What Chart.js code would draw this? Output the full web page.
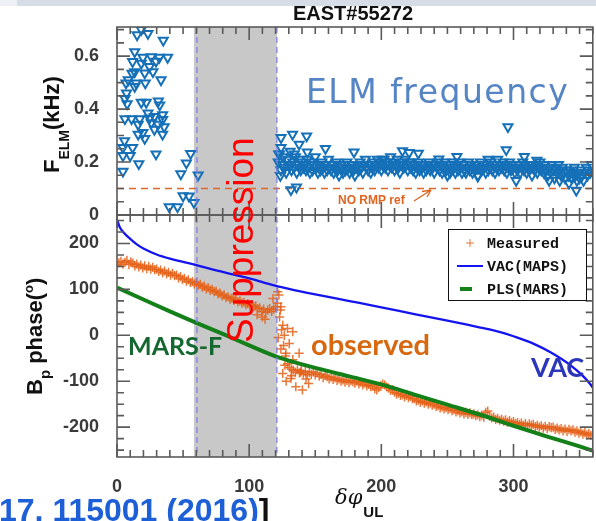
<!DOCTYPE html>
<html>
<head>
<meta charset="utf-8">
<script src="https://cdn.jsdelivr.net/npm/chart.js@4.4.1/dist/chart.umd.min.js"></script>
<style>
html, body { margin: 0; padding: 0; background: #fff; overflow: hidden; width: 596px; height: 521px; }
canvas { display: block; }
</style>
</head>
<body>
<canvas id="chart" width="600" height="521"></canvas>
<script>
// ===== data =====
const xTicks = [0, 100, 200, 300];
const fTicks = [0, 0.2, 0.4, 0.6];
const phaseTicks = [-200, -100, 0, 100, 200];

// ELM frequency (kHz), scattered points
const elmX = [18.4,15.2,23.4,35,13.4,11.8,19.6,25.9,32,38.3,29.5,18.4,24.6,13.4,11.4,21,27.2,33.3,8.5,6.8,
  14.4,21.4,13.4,7.2,6,7.7,18.4,22.1,31.3,32.3,6,11,17.2,23.4,24.6,28.3,34.5,34.5,16,26,
  31,28.3,35.7,16,19.6,21,34.5,5.7,4.5,11.8,4.5,10,29.5,16.5,4.5,55.7,52.5,48.3,61.4,50,
  54.5,58.2,39.5,45.8,
  124.1,132.8,143.5,124.1,137.8,122.4,134,144,157.7,179.3,123.6,131.6,135.8,216,221,228,200.7,295.8,294.5,257.2,
  243.5,280.8,308.2,317.7,302,326.9,335,342,347.5,252,273];
const elmF = [0.70,0.68,0.685,0.66,0.616,0.579,0.595,0.597,0.595,0.595,0.58,0.573,0.56,0.541,0.535,0.536,0.541,0.51,0.51,0.498,
  0.498,0.498,0.485,0.46,0.44,0.42,0.425,0.425,0.43,0.415,0.363,0.363,0.363,0.385,0.366,0.372,0.378,0.36,0.342,0.348,
  0.342,0.323,0.333,0.305,0.311,0.289,0.305,0.28,0.255,0.255,0.224,0.224,0.23,0.193,0.165,0.232,0.196,0.155,0.151,0.072,
  0.071,0.047,0.031,0.031,
  0.292,0.305,0.298,0.255,0.267,0.23,0.23,0.238,0.251,0.238,0.149,0.095,0.105,0.242,0.236,0.233,0.21,0.333,0.246,0.221,
  0.211,0.21,0.221,0.206,0.13,0.13,0.13,0.12,0.093,0.16,0.146];

// ELM frequency, dense band after suppression (one value per unit of dphi, from 122)
const elmBandStart = 122;
const elmBand = [
  .20,.23,.17,.19,.22,.18,.16,.21,.19,.24,.17,.20,.18,.22,.16,.19,.21,.17,.20,.18,
  .19,.17,.21,.18,.16,.20,.17,.19,.22,.18,.16,.19,.17,.20,.18,.16,.19,.17,.21,.18,
  .17,.19,.16,.18,.20,.17,.15,.19,.18,.16,.19,.17,.20,.18,.16,.18,.19,.17,.15,.18,
  .19,.17,.20,.18,.16,.19,.21,.18,.17,.19,.16,.18,.20,.17,.19,.21,.18,.20,.17,.19,
  .21,.18,.20,.17,.19,.22,.18,.20,.17,.19,.21,.18,.16,.19,.20,.18,.21,.19,.17,.20,
  .18,.20,.17,.19,.16,.18,.20,.17,.19,.18,.16,.19,.17,.18,.20,.17,.19,.18,.16,.19,
  .18,.20,.17,.19,.16,.18,.20,.17,.15,.18,.19,.17,.20,.18,.16,.19,.17,.20,.18,.16,
  .19,.17,.16,.18,.20,.17,.19,.16,.18,.17,.19,.15,.18,.20,.17,.19,.18,.16,.19,.17,
  .18,.20,.17,.19,.16,.18,.21,.17,.19,.18,.20,.17,.19,.16,.18,.20,.17,.19,.18,.16,
  .18,.17,.19,.16,.18,.20,.17,.19,.16,.18,.17,.19,.15,.18,.17,.19,.16,.18,.20,.17,
  .18,.16,.19,.17,.15,.18,.16,.19,.17,.14,.18,.16,.19,.17,.15,.18,.16,.14,.17,.16,
  .15,.17,.14,.16,.18,.15,.13,.16,.14,.17,.15,.13,.16,.18,.15,.17,.16,.19];
const noRmpRef = 0.1;

// measured Bp phase (deg), one value every 1.5 of dphi from 0
const measStep = 1.5;
const measured = [
  152,158,161,155,159,163,154,160,157,151,
  155,149,153,147,151,145,150,144,148,143,
  144,139,142,136,140,134,137,131,135,130,
  131,125,128,122,124,118,121,115,117,112,
  115,109,111,105,107,101,104,98,100,95,
  96,90,92,86,88,82,84,79,81,76,
  78,73,75,70,72,67,69,64,66,62,
  64,58,60,52,57,50,55,58,52,57,
  62,70,40,12,-22,-45,-62,-70,-74,-76,
  -80,-75,-82,-77,-84,-79,-86,-81,-85,-80,
  -86,-82,-89,-85,-92,-87,-90,-95,-91,-96,
  -93,-98,-95,-100,-97,-102,-98,-103,-99,-101,
  -104,-100,-106,-102,-108,-104,-110,-107,-112,-109,
  -116,-119,-114,-110,-106,-108,-112,-115,-120,-118,
  -124,-128,-126,-131,-129,-134,-131,-136,-133,-138,
  -138,-143,-141,-146,-143,-148,-145,-150,-147,-152,
  -150,-155,-153,-158,-156,-160,-157,-162,-159,-164,
  -162,-167,-164,-169,-166,-171,-168,-172,-169,-173,
  -171,-175,-173,-177,-174,-178,-168,-165,-176,-180,
  -178,-183,-181,-185,-183,-187,-184,-189,-186,-190,
  -188,-192,-190,-194,-191,-196,-192,-197,-193,-196,
  -194,-199,-196,-200,-197,-202,-198,-203,-199,-201,
  -200,-205,-202,-206,-203,-208,-204,-209,-205,-208,
  -206,-211,-208,-213,-210,-215,-212,-217,-214,-218];
// measured points scattered around the end of suppression
const measExtraX = [121.6,122.5,124,123.6,125.4,129,133,126.6,130.3,127.8,137.8,133,125.4,131.6,135.3,140.3,139,143,128,145,122,124,118,112,110,106,127,132];
const measExtraY = [95,88,62,55,22,15,8,0,-18,-39,-39,-53,-83,-94,-112,-119,-80,-95,-100,-105,-5,-30,80,35,40,45,-65,-88];

// VAC (MAPS) and PLS (MARS) curves
const vacX = [0,2,5,10,15,20,30,40,50,60,70,80,90,100,110,121,130,150,175,200,225,250,275,290,300,315,328,343,353,358,362];
const vacY = [252,236,224,210,198,189,176,167,160,153,145,138,131,124,116,107,101,89,75,61,46,32,17,7,-2,-18,-37,-65,-90,-106,-122];
const plsX = [0,20,40,60,80,100,121,130,150,175,200,225,250,275,300,325,350,362];
const plsY = [104,78,52,27,3,-22,-47,-55,-71,-89,-107,-129,-151,-173,-197,-220,-242,-253];

// suppression window and its dashed edges
const suppressBand = [58.2, 121];
const suppressEdges = [60.5, 121];

const pts = (xs, ys) => xs.map((x, i) => ({ x: x, y: ys[i] }));

const TICK_FONT = { family: 'Liberation Sans', size: 18, weight: 'bold' };
const ORANGE = 'rgba(228,96,24,0.85)';
const ELM_BLUE = '#1570b8';

function txt(ctx, s, x, y, font, color, align) {
    ctx.font = font;
    ctx.fillStyle = color;
    ctx.textAlign = align || 'left';
    ctx.textBaseline = 'alphabetic';
    ctx.fillText(s, x, y);
    return ctx.measureText(s).width;
}

const decor = {
    id: 'decor',
    beforeDatasetsDraw(chart) {
        const { ctx, chartArea: a, scales: { x } } = chart;
        ctx.save();
        const x0 = x.getPixelForValue(suppressBand[0]), x1 = x.getPixelForValue(suppressBand[1]);
        ctx.fillStyle = '#c8c8c8';
        ctx.fillRect(x0, a.top, x1 - x0, a.bottom - a.top);
        ctx.restore();
    },
    afterDatasetsDraw(chart) {
        const { ctx, chartArea: a, scales: { x, yf, yp } } = chart;
        ctx.save();
        // dashed edges of suppression window
        ctx.strokeStyle = '#7a7aee';
        ctx.lineWidth = 1.2;
        ctx.setLineDash([6, 4]);
        suppressEdges.forEach(v => {
            const px = x.getPixelForValue(v);
            ctx.beginPath(); ctx.moveTo(px, a.top); ctx.lineTo(px, a.bottom); ctx.stroke();
        });
        ctx.setLineDash([]);

        // frames + inward ticks for each panel
        ctx.strokeStyle = '#5a5a5a';
        ctx.lineWidth = 1.6;
        const panels = [
            { s: yf, step: 0.05, major: 0.2 },
            { s: yp, step: 25, major: 100 }
        ];
        panels.forEach(p => {
            const top = p.s.top, bot = p.s.bottom;
            ctx.strokeRect(a.left, top, a.right - a.left, bot - top);
            ctx.beginPath();
            for (let v = 0; v <= 360; v += 10) {
                const px = x.getPixelForValue(v);
                const len = v % 100 === 0 ? 13 : 7;
                ctx.moveTo(px, bot); ctx.lineTo(px, bot - len);
                ctx.moveTo(px, top); ctx.lineTo(px, top + len);
            }
            const n0 = Math.ceil(p.s.min / p.step), n1 = Math.floor(p.s.max / p.step);
            const per = Math.round(p.major / p.step);
            for (let n = n0; n <= n1; n++) {
                const py = p.s.getPixelForValue(n * p.step);
                const len = n % per === 0 ? 13 : 7;
                ctx.moveTo(a.left, py); ctx.lineTo(a.left + len, py);
                ctx.moveTo(a.right, py); ctx.lineTo(a.right - len, py);
            }
            ctx.stroke();
        });
        ctx.restore();
    },
    afterDraw(chart) {
        const { ctx } = chart;
        ctx.save();

        // slide header strip
        ctx.fillStyle = '#d6dde7';
        ctx.fillRect(0, 0, 596, 6);
        ctx.fillStyle = '#eef1f5';
        ctx.fillRect(0, 0, 17, 6);

        // title
        txt(ctx, 'EAST#55272', 353, 20, 'bold 20px "Liberation Sans"', '#111', 'center');

        // upper y title: F_ELM(kHz)
        ctx.save();
        ctx.translate(59, 173);
        ctx.rotate(-Math.PI / 2);
        let w = txt(ctx, 'F', 0, 0, 'bold 22px "Liberation Sans"', '#111');
        let w2 = txt(ctx, 'ELM', w, 10, 'bold 14px "Liberation Sans"', '#111');
        txt(ctx, '(kHz)', w + w2, 0, 'bold 22px "Liberation Sans"', '#111');
        ctx.restore();

        // lower y title: B_p phase(o)
        ctx.save();
        ctx.translate(42, 395);
        ctx.rotate(-Math.PI / 2);
        w = txt(ctx, 'B', 0, 0, 'bold 22px "Liberation Sans"', '#111');
        w += txt(ctx, 'p', w, 8, 'bold 15px "Liberation Sans"', '#111');
        w += txt(ctx, ' phase(', w, 0, 'bold 22px "Liberation Sans"', '#111');
        w += txt(ctx, 'o', w, -9, 'bold 13px "Liberation Sans"', '#111');
        txt(ctx, ')', w, 0, 'bold 22px "Liberation Sans"', '#111');
        ctx.restore();

        // x title: delta phi_UL
        w = txt(ctx, '\u03B4\u03C6', 335, 504, 'italic 21px "DejaVu Serif"', '#111');
        txt(ctx, 'UL', 335 + w + 1, 517, 'bold 15px "Liberation Sans"', '#111');

        // annotations
        ctx.letterSpacing = '1.5px';
        txt(ctx, 'ELM frequency', 306, 103, 'normal 33px "DejaVu Sans"', '#5585c5');
        ctx.letterSpacing = '0px';
        txt(ctx, 'NO RMP ref', 338, 204, 'bold 12px "Liberation Sans"', '#e0641f');
        ctx.strokeStyle = '#e0641f';
        ctx.lineWidth = 1.3;
        ctx.beginPath();
        ctx.moveTo(414, 201); ctx.lineTo(431, 190);
        ctx.moveTo(431, 190); ctx.lineTo(422, 191.5);
        ctx.moveTo(431, 190); ctx.lineTo(427, 197);
        ctx.stroke();

        txt(ctx, 'MARS-F', 128, 355, 'bold 25px "Lato"', '#13672f');
        txt(ctx, 'observed', 311, 355, 'bold 29px "Lato"', '#d7680f');
        txt(ctx, 'VAC', 531, 377, 'bold 27px "Lato"', '#2b37b8');

        ctx.save();
        ctx.translate(253, 343);
        ctx.rotate(-Math.PI / 2);
        txt(ctx, 'Suppression', 0, 0, '37px "Liberation Sans"', '#ff0000');
        ctx.restore();

        // legend
        ctx.fillStyle = '#fff';
        ctx.fillRect(448.5, 229.5, 138, 71);
        ctx.strokeStyle = '#111';
        ctx.lineWidth = 1;
        ctx.strokeRect(448.5, 229.5, 138, 71);
        ctx.strokeStyle = ORANGE;
        ctx.beginPath();
        ctx.moveTo(466, 243); ctx.lineTo(474, 243);
        ctx.moveTo(470, 239); ctx.lineTo(470, 247);
        ctx.stroke();
        ctx.strokeStyle = '#1414f0'; ctx.lineWidth = 2;
        ctx.beginPath(); ctx.moveTo(457, 266); ctx.lineTo(483, 266); ctx.stroke();
        ctx.strokeStyle = '#13801a'; ctx.lineWidth = 4;
        ctx.beginPath(); ctx.moveTo(460, 289); ctx.lineTo(472, 289); ctx.stroke();
        ['Measured', 'VAC(MAPS)', 'PLS(MARS)'].forEach((s, i) =>
            txt(ctx, s, 487, 248 + i * 23, 'bold 15px "Liberation Mono"', '#111'));

        // reference line under the figure
        w = txt(ctx, '17, 115001 (2016)', -1, 521, 'bold 32px "Liberation Sans"', '#1d5fd6');
        txt(ctx, ']', w - 1, 521, 'bold 32px "Liberation Sans"', '#111');

        ctx.restore();
    }
};

const elmStyle = { pointStyle: 'triangle', rotation: 180, pointRadius: 5.2, borderWidth: 2,
    borderColor: ELM_BLUE, backgroundColor: 'rgba(0,0,0,0)', yAxisID: 'yf', order: 4 };
const measStyle = { pointStyle: 'cross', pointRadius: 4.6, borderWidth: 1.5, borderColor: ORANGE, yAxisID: 'yp', order: 3 };

new Chart(document.getElementById('chart'), {
    type: 'scatter',
    data: {
        datasets: [
            { label: 'VAC(MAPS)', data: pts(vacX, vacY), yAxisID: 'yp', showLine: true,
              borderColor: '#1414f0', borderWidth: 2.3, pointRadius: 0, cubicInterpolationMode: 'monotone', order: 1 },
            { label: 'PLS(MARS)', data: pts(plsX, plsY), yAxisID: 'yp', showLine: true,
              borderColor: '#13801a', borderWidth: 4, pointRadius: 0, cubicInterpolationMode: 'monotone', order: 2 },
            { label: 'Measured', data: measured.map((v, i) => ({ x: i * measStep, y: v })), ...measStyle },
            { label: 'Measured extra', data: pts(measExtraX, measExtraY), ...measStyle },
            { label: 'NO RMP ref', data: [{ x: 0, y: noRmpRef }, { x: 360, y: noRmpRef }], yAxisID: 'yf', showLine: true,
              borderColor: '#e0672a', borderWidth: 1.4, borderDash: [7, 5], pointRadius: 0, order: 5 },
            { label: 'ELM', data: pts(elmX, elmF), ...elmStyle },
            { label: 'ELM band', data: elmBand.map((v, i) => ({ x: elmBandStart + i, y: v })), ...elmStyle }
        ]
    },
    options: {
        responsive: false,
        animation: false,
        devicePixelRatio: 1,
        layout: { padding: { top: 27, right: 1, left: 0, bottom: 0 } },
        plugins: { legend: { display: false }, tooltip: { enabled: false } },
        scales: {
            x: { type: 'linear', position: 'bottom', min: 0, max: 360,
                 afterBuildTicks: s => { s.ticks = xTicks.map(v => ({ value: v })); },
                 afterFit: s => { s.height = 64; },
                 grid: { display: false }, border: { display: false },
                 ticks: { font: TICK_FONT, color: '#3a3a3a', padding: 11, maxRotation: 0 } },
            yp: { type: 'linear', position: 'left', min: -265, max: 262, stack: 'panels', stackWeight: 242,
                  afterBuildTicks: s => { s.ticks = phaseTicks.map(v => ({ value: v })); },
                  afterFit: s => { s.width = 117; },
                  grid: { display: false }, border: { display: false },
                  ticks: { font: TICK_FONT, color: '#3a3a3a', padding: 10 } },
            yf: { type: 'linear', position: 'left', min: 0, max: 0.71, stack: 'panels', stackWeight: 188,
                  afterBuildTicks: s => { s.ticks = fTicks.map(v => ({ value: v })); },
                  afterFit: s => { s.width = 117; },
                  grid: { display: false }, border: { display: false },
                  ticks: { font: TICK_FONT, color: '#3a3a3a', padding: 10,
                           callback: v => v === 0 ? '0' : v.toFixed(1) } }
        }
    },
    plugins: [decor]
});
</script>
</body>
</html>
